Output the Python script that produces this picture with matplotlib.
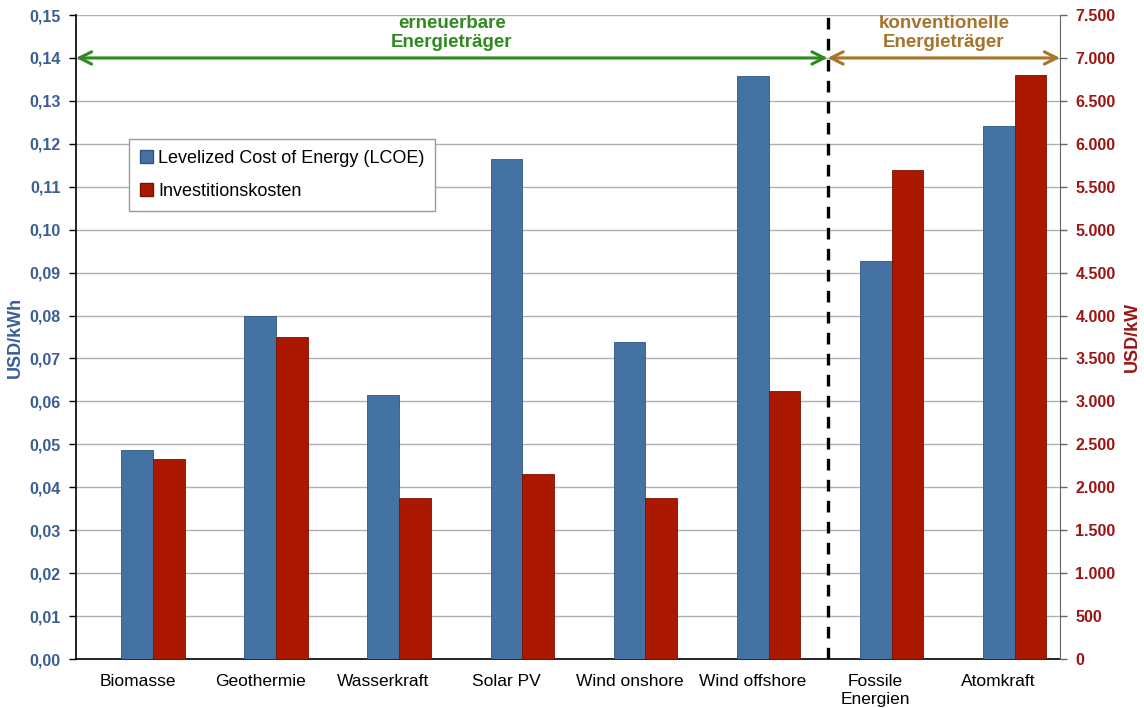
import numpy as np
import matplotlib.pyplot as plt
from matplotlib.ticker import FixedLocator
from matplotlib.patches import Patch

plt.rcParams['font.family'] = ['Liberation Sans', 'DejaVu Sans']

kategorien = ['Biomasse', 'Geothermie', 'Wasserkraft', 'Solar PV',
              'Wind onshore', 'Wind offshore', 'Fossile\nEnergien', 'Atomkraft']
lcoe = [0.0487, 0.0799, 0.0615, 0.1165, 0.0738, 0.1358, 0.0927, 0.1242]   # USD/kWh
invest = [2330, 3750, 1880, 2150, 1870, 3120, 5700, 6800]                 # USD/kW

blau = '#4472a3'
rot = '#aa1800'
blau_txt = '#3b5f94'
rot_txt = '#9c1414'
gruen = '#2f8a1f'
braun = '#a8732a'

fig = plt.figure(figsize=(11.44, 7.08), dpi=100)
ax = fig.add_axes([0.0664, 0.0692, 0.8602, 0.9096])
ax2 = ax.twinx()

x = np.arange(len(kategorien))
b = 0.26
ax.bar(x, lcoe, width=b, color=blau, edgecolor='#2f5680', linewidth=0.6, zorder=3)
ax2.bar(x + b, invest, width=b, color=rot, edgecolor='#7a1000', linewidth=0.6, zorder=3)

ax.set_xlim(-0.5, 7.5)
ax.set_ylim(0, 0.15)
ax2.set_ylim(0, 7500)
ax.yaxis.set_major_locator(FixedLocator(np.arange(0, 0.151, 0.01)))
ax2.yaxis.set_major_locator(FixedLocator(np.arange(0, 7501, 500)))
ax.set_yticklabels([f'{v:.2f}'.replace('.', ',') for v in np.arange(0, 0.151, 0.01)])
ax2.set_yticklabels(['0' if v == 0 else f'{v:,.0f}'.replace(',', '.') for v in np.arange(0, 7501, 500)])

ax.set_xticks(x)
ax.set_xticklabels(kategorien, fontsize=12.5)
ax.tick_params(axis='x', length=0, pad=11)
ax.tick_params(axis='y', direction='out', length=5, width=1, colors='black',
               labelcolor=blau_txt, labelsize=11.5, pad=6)
ax2.tick_params(axis='y', direction='out', length=5, width=1, colors='#666666',
                labelcolor=rot_txt, labelsize=11.5, pad=6)
for t in ax.get_yticklabels():
    t.set_fontweight('bold')
for t in ax2.get_yticklabels():
    t.set_fontweight('bold')

ax.grid(axis='y', color='#b0b0b0', linewidth=1, zorder=0)
ax.set_axisbelow(True)
ax.spines['top'].set_visible(False)
ax2.spines['top'].set_visible(False)
ax.spines['right'].set_visible(False)
ax2.spines['left'].set_visible(False)
ax2.spines['bottom'].set_visible(False)
ax2.spines['right'].set_color('#666666')
ax.spines['left'].set_linewidth(1.2)
ax.spines['bottom'].set_linewidth(1.2)

ax.set_ylabel('USD/kWh', color=blau_txt, fontsize=13, fontweight='bold', labelpad=4)
ax2.set_ylabel('USD/kW', color=rot_txt, fontsize=13, fontweight='bold', labelpad=6)

# Trennlinie zwischen erneuerbaren und konventionellen Energieträgern
grenze = 5.61
ax2.axvline(grenze, color='black', linewidth=2.4, linestyle=(0, (3.5, 2.8)), zorder=4)

ax2.annotate('', xy=(-0.5, 7000), xytext=(grenze, 7000), annotation_clip=False,
             arrowprops=dict(arrowstyle='<->', color=gruen, lw=2.2,
                             mutation_scale=22, shrinkA=0, shrinkB=0))
ax2.annotate('', xy=(grenze, 7000), xytext=(7.5, 7000), annotation_clip=False,
             arrowprops=dict(arrowstyle='<->', color=braun, lw=2.2,
                             mutation_scale=22, shrinkA=0, shrinkB=0))
ax2.text((grenze - 0.5) / 2, 7290, 'erneuerbare\nEnergieträger', color=gruen,
         fontsize=13.5, fontweight='bold', ha='center', va='center', linespacing=1.2)
ax2.text((grenze + 7.5) / 2, 7290, 'konventionelle\nEnergieträger', color=braun,
         fontsize=13.5, fontweight='bold', ha='center', va='center', linespacing=1.2)

handles = [Patch(facecolor=blau, edgecolor='#2f5680'), Patch(facecolor=rot, edgecolor='#7a1000')]
leg = ax2.legend(handles, ['Levelized Cost of Energy (LCOE)', 'Investitionskosten'],
                 loc='upper left', bbox_to_anchor=(0.045, 0.822), fontsize=13,
                 frameon=True, fancybox=False, edgecolor='#999999', framealpha=1,
                 handlelength=0.7, handleheight=0.7, handletextpad=0.3,
                 labelspacing=0.9, borderpad=0.6)
leg.get_frame().set_linewidth(1)

fig.savefig('out.png', dpi=100)
